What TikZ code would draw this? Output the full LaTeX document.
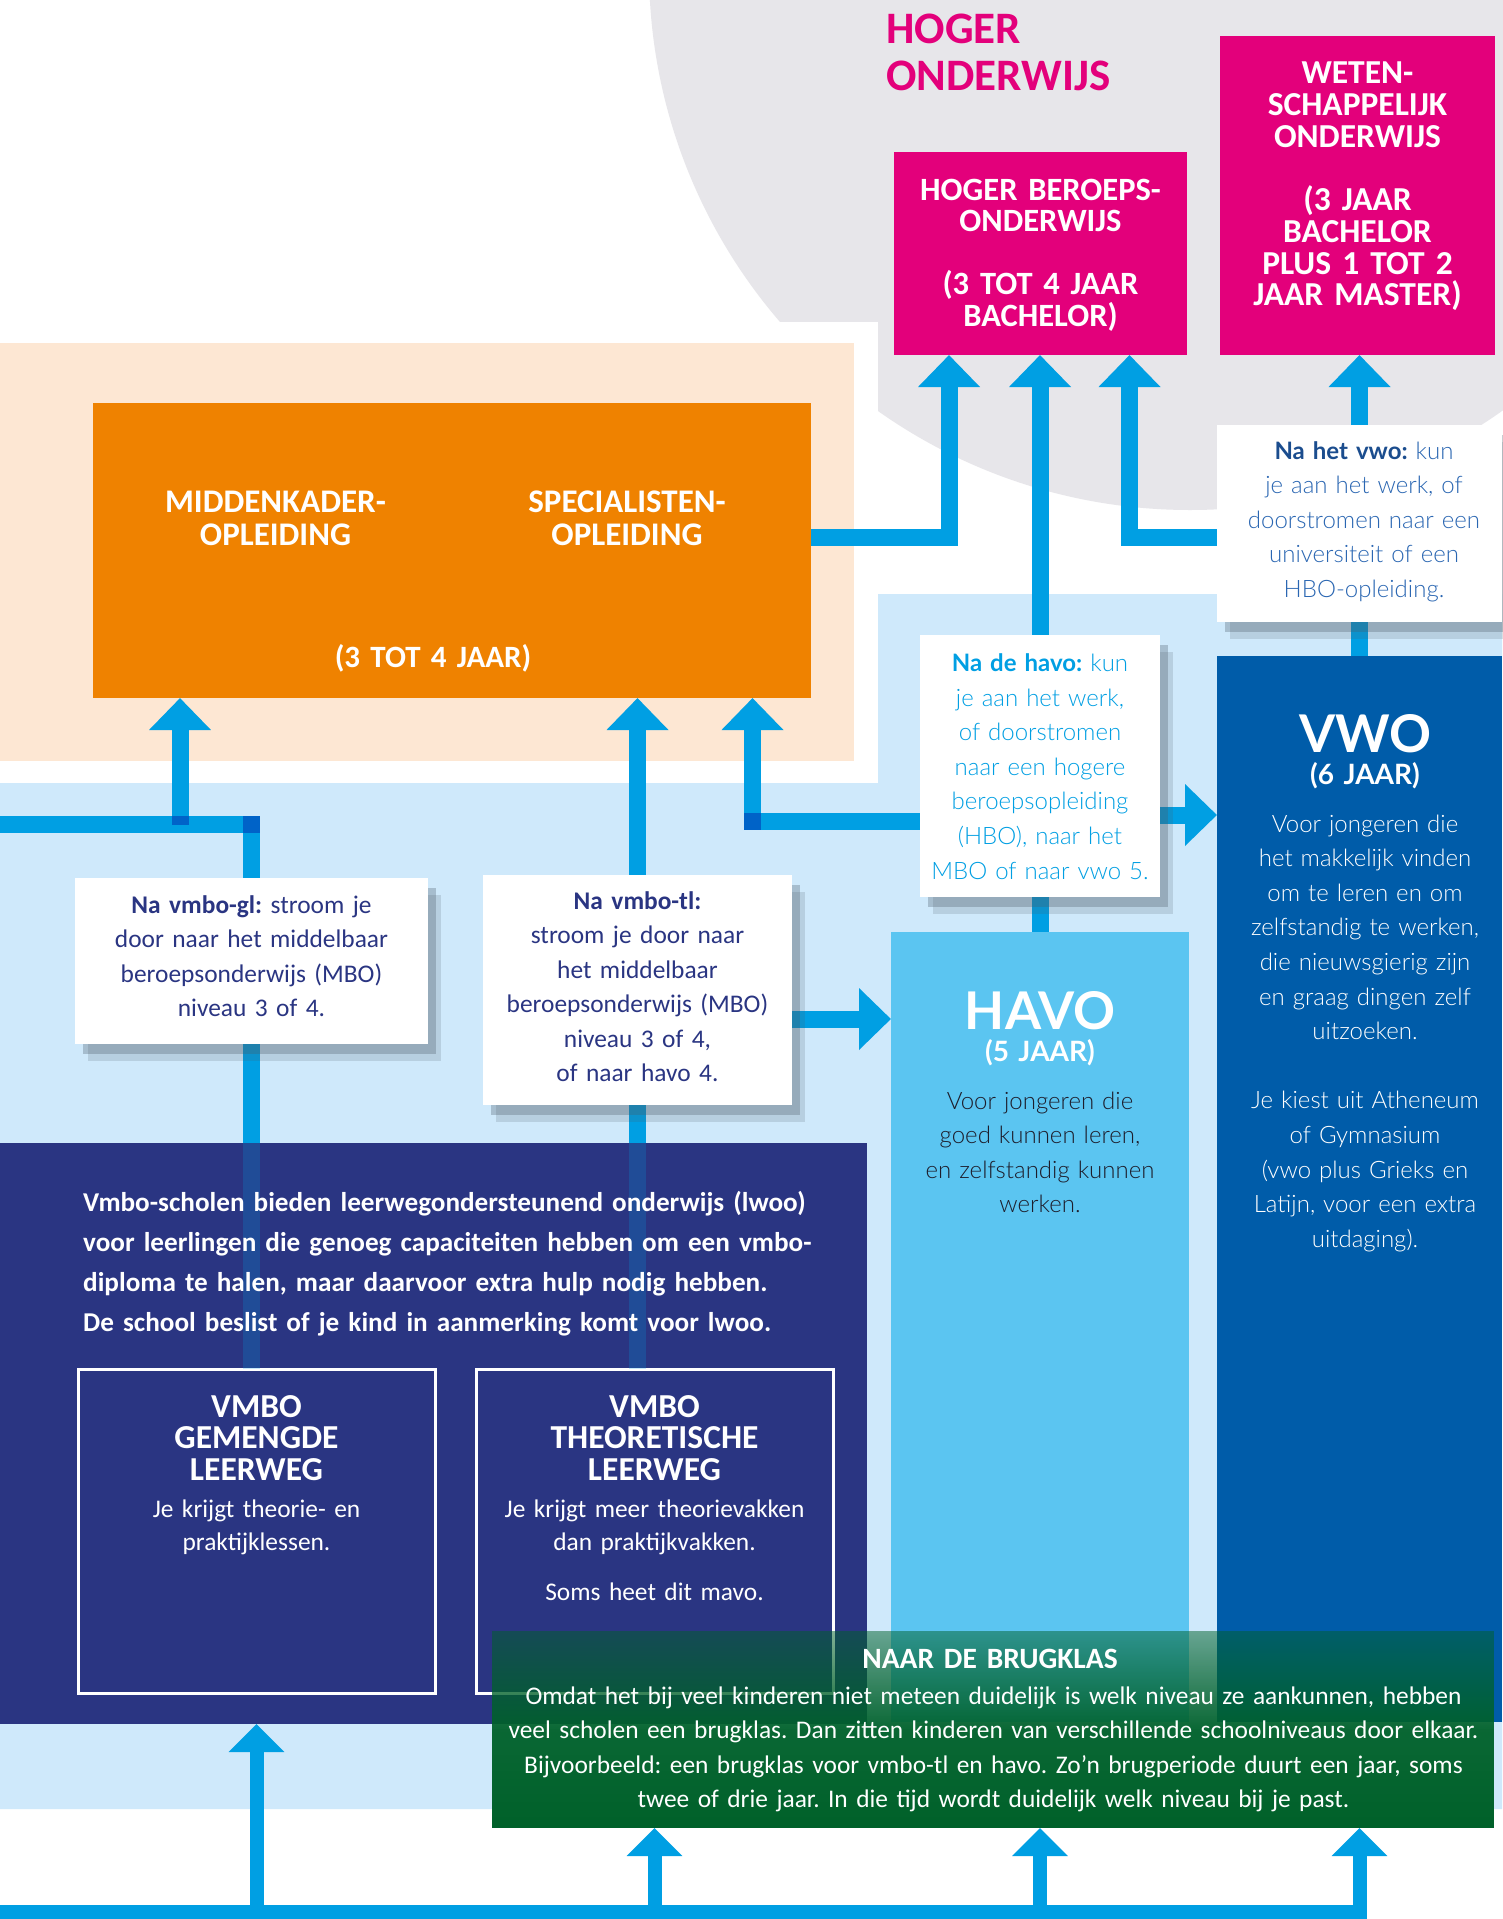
\documentclass[tikz,border=0pt]{standalone}
\usepackage{fontspec}
\setmainfont{Carlito}
\IfFontExistsTF{Lato Light}{\newfontfamily\wide{Lato Light}[BoldFont={Lato Bold}]}{\newfontfamily\wide{Lato}}
\frenchspacing
\usetikzlibrary{arrows.meta,shadows,fadings,calc}

\definecolor{circlegrey}{HTML}{E7E6EA}
\definecolor{mbopeach}{HTML}{FDE7D3}
\definecolor{mboorange}{HTML}{EF8200}
\definecolor{bgblue}{HTML}{CFE9FB}
\definecolor{flowblue}{HTML}{009FE3}
\definecolor{flowdark}{HTML}{0063C8}
\definecolor{homagenta}{HTML}{E3007B}
\definecolor{vmbonavy}{HTML}{2A3582}
\definecolor{havoblue}{HTML}{5BC5F1}
\definecolor{vwoblue}{HTML}{005CA9}
\definecolor{vwotext}{HTML}{2A66B2}
\definecolor{vwohead}{HTML}{1B4D8E}
\definecolor{havotext}{HTML}{1D1D2B}
\definecolor{bruggreen}{HTML}{00612A}
\definecolor{shadowgrey}{HTML}{4A5A68}

\pgfdeclarelayer{back}
\pgfdeclarelayer{lines}
\pgfsetlayers{back,lines,main}

\tikzfading[name=brugfade, top color=transparent!50, bottom color=transparent!0, middle color=transparent!5]

\newcommand\Overlap[2]{% darker spot where two flows cross
    \fill[flowdark] ($(#1)+(-8.5,-8.5)$) rectangle ++(17,#2);
}

\begin{document}
\begin{tikzpicture}[x=1pt,y=-1pt,
    box/.style={inner sep=0pt, outer sep=0pt, anchor=north west},
    note/.style={box, fill=white,
        drop shadow={shadow xshift=13pt, shadow yshift=-17pt, opacity=.18, fill=shadowgrey},
        drop shadow={shadow xshift=8pt, shadow yshift=-10pt, opacity=.3, fill=shadowgrey}},
    flow/.style={draw=flowblue, line width=17pt, -{Triangle[width=60pt,length=32pt]}},
    feed/.style={draw=flowblue, line width=14pt, -{Triangle[width=54pt,length=28pt]}},
    link/.style={draw=flowblue, line width=17pt},
    txt/.style={inner sep=0pt, anchor=base, align=center, text width=#1},
    txt/.default=440pt,
    body/.style={font=\fontsize{25.4}{34.5}\selectfont},
    wbody/.style={font=\wide\fontsize{24}{34.6}\selectfont},
    head/.style={font=\bfseries\fontsize{32.5}{31.7}\selectfont, text=white},
  ]
    \useasboundingbox (0,0) rectangle (1502,1919);
    \begin{pgfonlayer}{back}
        \fill[white] (0,0) rectangle (1502,1919);
        \fill[circlegrey] (1190,-31) circle[radius=541];
        \fill[white] (0,322) rectangle (878,1919);
        \fill[mbopeach] (0,343) rectangle (854,761);
        \fill[bgblue] (878,594) -- (1502,594) -- (1502,1809) -- (0,1809) -- (0,783) -- (878,783) -- cycle;
    \end{pgfonlayer}

    % hoger onderwijs
    \node[txt=400pt, anchor=base west, align=left, font=\bfseries\fontsize{45}{47}\selectfont, text=homagenta] at (886,44) {HOGER\\ONDERWIJS};
    \node[box, fill=homagenta, minimum width=293pt, minimum height=203pt] (hbo) at (894,152) {};
    \node[txt, head] at (1040.5,200) {HOGER BEROEPS-\\ONDERWIJS\\[31.5pt](3 TOT 4 JAAR\\BACHELOR)};
    \node[box, fill=homagenta, minimum width=275pt, minimum height=319pt] (wo) at (1220,36) {};
    \node[txt, head, font=\bfseries\fontsize{33.5}{31.7}\selectfont] at (1357.5,84) {WETEN-\\SCHAPPELIJK\\ONDERWIJS\\[31.7pt](3 JAAR\\BACHELOR\\PLUS 1 TOT 2\\JAAR MASTER)};

    % mbo
    \node[box, fill=mboorange, minimum width=717.5pt, minimum height=295pt] (mbo) at (93,403) {};
    \node[txt, head, font=\bfseries\fontsize{33}{32.5}\selectfont] at (275.5,512.5) {MIDDENKADER-\\OPLEIDING};
    \node[txt, head, font=\bfseries\fontsize{33}{32.5}\selectfont] at (627,512.5) {SPECIALISTEN-\\OPLEIDING};
    \node[txt, head, font=\bfseries\fontsize{31}{30}\selectfont] at (433,667.5) {(3 TOT 4 JAAR)};

    % havo en vwo
    \node[box, fill=havoblue, minimum width=298pt, minimum height=790pt] (havo) at (891,932) {};
    \node[txt, font=\wide\bfseries\fontsize{52}{52}\selectfont, text=white] at (1040,1029) {HAVO};
    \node[txt, font=\wide\bfseries\fontsize{28}{28}\selectfont, text=white] at (1040,1061) {(5 JAAR)};
    \node[txt, wbody, text=havotext] at (1040,1109) {Voor jongeren die\\goed kunnen leren,\\en zelfstandig kunnen\\werken.};
    \node[box, fill=vwoblue, minimum width=285pt, minimum height=1066pt] (vwo) at (1217,656) {};
    \node[txt, font=\wide\bfseries\fontsize{52}{52}\selectfont, text=white] at (1365,752) {VWO};
    \node[txt, font=\wide\bfseries\fontsize{28}{28}\selectfont, text=white] at (1365,784.5) {(6 JAAR)};
    \node[txt, wbody, text=white] at (1365,832) {Voor jongeren die\\het makkelijk vinden\\om te leren en om\\zelfstandig te werken,\\die nieuwsgierig zijn\\en graag dingen zelf\\uitzoeken.\\[34.6pt]Je kiest uit Atheneum\\of Gymnasium\\(vwo plus Grieks en\\Latijn, voor een extra\\uitdaging).};

    % notes
    \node[note, minimum width=285pt, minimum height=197.5pt] (vwonote) at (1217,424.5) {};
    \node[txt, wbody, text=vwotext] at (1364,459) {\textcolor{vwohead}{\bfseries Na het vwo:} kun\\je aan het werk, of\\doorstromen naar een\\universiteit of een\\HBO-opleiding.};
    \node[note, minimum width=240pt, minimum height=262pt] (havonote) at (920,635) {};
    \node[txt, wbody, text=flowblue] at (1040,671.5) {\textbf{Na de havo:} kun\\je aan het werk,\\of doorstromen\\naar een hogere\\beroepsopleiding\\(HBO), naar het\\MBO of naar vwo 5.};
    \node[note, minimum width=353pt, minimum height=166pt] (glnote) at (75,878) {};
    \node[txt, body, text=vmbonavy] at (251.5,913) {\textbf{Na vmbo-gl:} stroom je\\door naar het middelbaar\\beroepsonderwijs (MBO)\\niveau 3 of 4.};
    \node[note, minimum width=309pt, minimum height=229.5pt] (tlnote) at (483,875) {};
    \node[txt, body, text=vmbonavy] at (637.5,909) {\textbf{Na vmbo-tl:}\\stroom je door naar\\het middelbaar\\beroepsonderwijs (MBO)\\niveau 3 of 4,\\of naar havo 4.};

    % vmbo
    \node[box, fill=vmbonavy, minimum width=867pt, minimum height=581pt] (navy) at (0,1143) {};
    \node[box, draw=white, line width=3pt, minimum width=357pt, minimum height=324pt] (glbox) at (78,1369) {};
    \node[box, draw=white, line width=3pt, minimum width=357pt, minimum height=324pt] (tlbox) at (476,1369) {};
    \draw[link, opacity=.22] (glnote.south |- navy.north) -- (glnote.south |- glbox.north);
    \draw[link, opacity=.22] (tlnote.south |- navy.north) -- (tlnote.south |- tlbox.north);
    \node[txt=850pt, anchor=base west, align=left, font=\bfseries\fontsize{27.2}{40}\selectfont, text=white] at (83,1211.6) {Vmbo-scholen bieden leerwegondersteunend onderwijs (lwoo)\\voor leerlingen die genoeg capaciteiten hebben om een vmbo-\\diploma te halen, maar daarvoor extra hulp nodig hebben.\\De school beslist of je kind in aanmerking komt voor lwoo.};
    \node[txt, head, font=\bfseries\fontsize{33.5}{31.7}\selectfont] at (256.5,1417) {VMBO\\GEMENGDE\\LEERWEG};
    \node[txt, body, text=white, font=\fontsize{25.4}{33}\selectfont] at (256.5,1517) {Je krijgt theorie- en\\praktijklessen.};
    \node[txt, head, font=\bfseries\fontsize{33.5}{31.7}\selectfont] at (654.5,1417) {VMBO\\THEORETISCHE\\LEERWEG};
    \node[txt, body, text=white, font=\fontsize{25.4}{33}\selectfont] at (654.5,1517) {Je krijgt meer theorievakken\\dan praktijkvakken.\\[17pt]Soms heet dit mavo.};

    % brugklas
    \node[box, fill=bruggreen, path fading=brugfade, minimum width=1003pt, minimum height=197pt] (brug) at (492,1631) {};
    \node[txt, font=\bfseries\fontsize{29.5}{30}\selectfont, text=white] at (990,1668.6) {NAAR DE BRUGKLAS};
    \node[txt=1100pt, body, text=white] at (993.5,1704) {Omdat het bij veel kinderen niet meteen duidelijk is welk niveau ze aankunnen, hebben\\veel scholen een brugklas. Dan zitten kinderen van verschillende schoolniveaus door elkaar.\\Bijvoorbeeld: een brugklas voor vmbo-tl en havo. Zo’n brugperiode duurt een jaar, soms\\twee of drie jaar. In die tijd wordt duidelijk welk niveau bij je past.};

    \begin{pgfonlayer}{lines}
        \coordinate (offpage) at (0,824.5);
        \coordinate (mgsplit) at ($(mbo.south west)+(87,126.5)$);
        \coordinate (havoleft) at ($(havonote.west)+(0,55)$);
        \coordinate (havobend) at ($(mbo.south east)+(-58,0)$);
        \coordinate (havoright) at ($(havonote.east)+(0,49)$);
        \coordinate (tlright) at ($(tlnote.east)+(0,29.25)$);
        \draw[link] (offpage) -| (glnote.north);
        \draw[flow] (mgsplit) -- (mgsplit |- mbo.south);
        \draw[flow] (tlnote.north) -- (tlnote.north |- mbo.south);
        \draw[flow] (havoleft) -| (havobend);
        \draw[flow] ($(mbo.east)+(0,-13.5)$) -| ($(hbo.south west)+(55,0)$);
        \draw[flow] (havonote.north) -- (havonote.north |- hbo.south);
        \draw[flow] ($(vwonote.west)+(0,13.75)$) -| ($(hbo.south west)+(235.5,0)$);
        \draw[flow] (vwonote.north) -- (vwonote.north |- wo.south);
        \draw[link] (vwo.north) -- (vwonote.south);
        \draw[flow] (havoright) -- (havoright -| vwo.west);
        \draw[link] (havonote.south) -- (havo.north);
        \draw[flow] (tlright) -- (tlright -| havo.west);
        \draw[link] (glnote.south) -- (glnote.south |- glbox.north);
        \draw[link] (tlnote.south) -- (tlnote.south |- tlbox.north);
        \Overlap{glnote.north |- offpage}{17}
        \Overlap{mgsplit}{9}
        \Overlap{havoleft -| havobend}{17}
    \end{pgfonlayer}

    % naar de brugklas
    \coordinate (feedin) at (0,1912);
    \draw[feed] (feedin) -| (vwo.south |- brug.south);
    \draw[feed] (feedin -| glbox.south) -- (glbox.south |- navy.south);
    \draw[feed] (feedin -| tlbox.south) -- (tlbox.south |- brug.south);
    \draw[feed] (feedin -| havo.south) -- (havo.south |- brug.south);
\end{tikzpicture}
\end{document}
